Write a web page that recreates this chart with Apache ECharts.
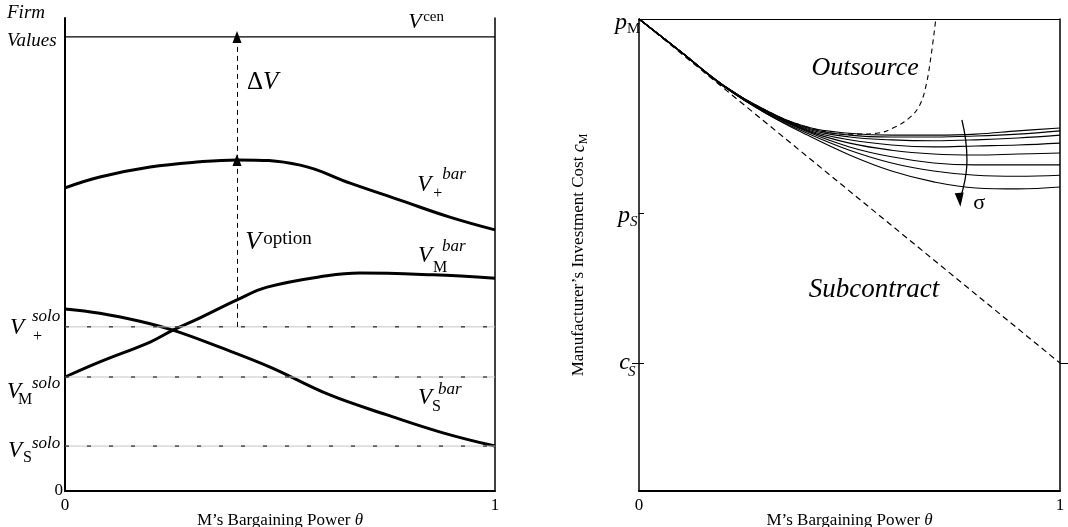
<!DOCTYPE html>
<html>
<head>
  <meta charset="UTF-8">
  <title>Firm values and the outsourcing boundary</title>
  <script src="https://cdn.jsdelivr.net/npm/echarts@6/dist/echarts.min.js"></script>
  <style>
    html, body { margin: 0; background: #fff; }
    #chart { width: 1068px; height: 527px; }
  </style>
</head>
<body>
  <div id="chart"></div>
  <script>
    // left panel: firm values against M's bargaining power
    const plusBarTheta = [0, 0.081, 0.198, 0.314, 0.4, 0.547, 0.663, 0.779, 0.895, 1];
    const plusBarValue = [64.1, 66.4, 68.5, 69.6, 70.0, 68.9, 65.1, 61.5, 57.9, 55.2];
    const mBarTheta = [0, 0.081, 0.198, 0.251, 0.314, 0.4, 0.47, 0.609, 0.686, 0.856, 1];
    const mBarValue = [24.1, 27.3, 31.5, 34.0, 36.6, 40.4, 43.1, 45.5, 46.1, 45.7, 45.0];
    const sBarTheta = [0, 0.081, 0.174, 0.251, 0.36, 0.477, 0.616, 0.749, 0.879, 1];
    const sBarValue = [38.5, 37.6, 35.9, 34.0, 30.4, 26.2, 20.3, 16.1, 12.3, 9.5];
    const plusSolo = 34.7, mSolo = 24.1, sSolo = 9.5, vCen = 96;
    const optionTheta = 0.4, plusBarPeak = 70.0;

    // right panel: investment cost threshold for several sigma
    const thetaGrid = [0, 0.1, 0.2, 0.3, 0.4, 0.5, 0.6, 0.7, 0.8, 0.9, 1];
    const sigmaCurves = [
      [1, 0.930, 0.860, 0.807, 0.771, 0.758, 0.754, 0.754, 0.756, 0.763, 0.769],
      [1, 0.930, 0.860, 0.807, 0.769, 0.754, 0.750, 0.750, 0.752, 0.756, 0.763],
      [1, 0.930, 0.860, 0.805, 0.767, 0.750, 0.744, 0.742, 0.744, 0.748, 0.754],
      [1, 0.930, 0.860, 0.805, 0.765, 0.744, 0.733, 0.729, 0.731, 0.733, 0.737],
      [1, 0.930, 0.858, 0.803, 0.763, 0.737, 0.722, 0.714, 0.712, 0.714, 0.716],
      [1, 0.930, 0.858, 0.803, 0.761, 0.729, 0.708, 0.695, 0.691, 0.691, 0.691],
      [1, 0.930, 0.858, 0.801, 0.758, 0.722, 0.695, 0.678, 0.669, 0.667, 0.669],
      [1, 0.930, 0.858, 0.801, 0.754, 0.712, 0.678, 0.655, 0.642, 0.640, 0.644]
    ];
    const boundaryTheta = [0, 0.1, 0.2, 0.3, 0.4, 0.5, 0.565, 0.608, 0.644, 0.667, 0.682, 0.694, 0.705];
    const boundaryValue = [1, 0.930, 0.860, 0.807, 0.771, 0.756, 0.758, 0.771, 0.792, 0.818, 0.860, 0.924, 1];
    const sigmaArrowTheta = [0.767, 0.779, 0.762];
    const sigmaArrowValue = [0.786, 0.701, 0.617];
    const pM = 1, pS = 0.589, cS = 0.271;

    const SERIF = '"Liberation Serif", "Times New Roman", serif';
    const chart = echarts.init(document.getElementById('chart'));

    function line(xi, yi, xs, ys, style, extra) {
      return Object.assign({
        type: 'line', xAxisIndex: xi, yAxisIndex: yi,
        data: xs.map((x, i) => [x, ys[i]]),
        symbol: 'none', silent: true, animation: false,
        lineStyle: Object.assign({ color: '#000', width: 1 }, style)
      }, extra || {});
    }

    function flat(xi, yi, v, style) {
      return line(xi, yi, [0, 1], [v, v], style);
    }

    const tickFont = { color: '#000', fontFamily: SERIF, fontSize: 17 };
    const xName = {
      name: 'M’s Bargaining Power {t|θ}', nameLocation: 'middle', nameGap: 21, nameMoveOverlap: false,
      nameTextStyle: Object.assign({ rich: { t: { fontStyle: 'italic', fontFamily: SERIF, fontSize: 17 } } }, tickFont)
    };

    const series = [
      line(0, 0, plusBarTheta, plusBarValue, { width: 3 }, { smooth: 0.4 }),
      line(0, 0, mBarTheta, mBarValue, { width: 3 }, { smooth: 0.4 }),
      line(0, 0, sBarTheta, sBarValue, { width: 3 }, { smooth: 0.4 }),
      flat(0, 0, vCen, { width: 1.2 })
    ];
    [plusSolo, mSolo, sSolo].forEach(v => {
      series.push(flat(0, 0, v, { color: '#c4c4c4', width: 1 }));
      series.push(flat(0, 0, v, { color: '#000', width: 1, type: [4, 18] }));
    });
    // dashed arrows for V option and Delta V
    series.push({
      type: 'line', xAxisIndex: 0, yAxisIndex: 0, data: [], silent: true, animation: false,
      markLine: {
        silent: true, animation: false, symbol: ['none', 'triangle'], symbolSize: [9, 12],
        label: { show: false },
        lineStyle: { color: '#000', width: 1, type: [5, 4] },
        emphasis: { disabled: true },
        data: [
          [{ coord: [optionTheta, plusSolo] }, { coord: [optionTheta, plusBarPeak] }],
          [{ coord: [optionTheta, plusBarPeak] }, { coord: [optionTheta, vCen] }]
        ]
      }
    });

    sigmaCurves.forEach(c => series.push(line(1, 2, thetaGrid, c, { width: 1.1 }, { smooth: 0.4 })));
    series.push(line(1, 2, [0, 1], [pM, cS], { width: 1.2, type: [6, 4] }));
    series.push(line(1, 2, boundaryTheta, boundaryValue, { width: 1.1, type: [5, 4] }, { smooth: 0.4 }));
    const arrow = line(1, 2, sigmaArrowTheta, sigmaArrowValue, { width: 1.3 }, { smooth: true });
    arrow.data[2] = { value: arrow.data[2], symbol: 'triangle', symbolSize: [9, 14], symbolRotate: 185, itemStyle: { color: '#000' } };
    arrow.showSymbol = true;
    series.push(arrow);

    const plainAxis = { type: 'value', min: 0, max: 1, splitLine: { show: false }, axisTick: { show: false }, axisLabel: { show: false } };

    chart.setOption({
      backgroundColor: '#fff',
      animation: false,
      grid: [
        { left: 65, right: 573, top: 18, bottom: 36, outerBoundsMode: 'none', containLabel: false },
        { left: 639, right: 8, top: 19, bottom: 36, outerBoundsMode: 'none', containLabel: false }
      ],
      xAxis: [
        Object.assign({
          gridIndex: 0, type: 'value', min: 0, max: 1, interval: 1,
          axisLine: { onZero: false, lineStyle: { color: '#000', width: 2 } },
          axisTick: { show: false }, splitLine: { show: false },
          axisLabel: Object.assign({ margin: 6 }, tickFont)
        }, xName),
        Object.assign({
          gridIndex: 1, type: 'value', min: 0, max: 1, interval: 1,
          axisLine: { onZero: false, lineStyle: { color: '#000', width: 2 } },
          axisTick: { show: false }, splitLine: { show: false },
          axisLabel: Object.assign({ margin: 6 }, tickFont)
        }, xName),
        Object.assign({}, plainAxis, {
          gridIndex: 1, position: 'top',
          axisLine: { onZero: false, lineStyle: { color: '#000', width: 1 } }
        })
      ],
      yAxis: [
        {
          gridIndex: 0, type: 'value', min: 0, max: 100,
          axisLine: { onZero: false, lineStyle: { color: '#000', width: 2 } },
          axisTick: { show: false }, splitLine: { show: false },
          axisLabel: Object.assign({ customValues: [0], margin: 2 }, tickFont)
        },
        Object.assign({}, plainAxis, {
          gridIndex: 0, position: 'right', max: 100,
          axisLine: { onZero: false, lineStyle: { color: '#000', width: 1.5 } }
        }),
        Object.assign({}, plainAxis, {
          gridIndex: 1,
          axisLine: { onZero: false, lineStyle: { color: '#000', width: 1.5 } },
          axisTick: { show: true, customValues: [pS, cS], inside: true, length: 5, lineStyle: { color: '#000' } },
          name: 'Manufacturer’s Investment Cost {c|c}{m|M}',
          nameLocation: 'middle', nameRotate: 90, nameGap: 49, nameMoveOverlap: false,
          nameTextStyle: {
            color: '#000', fontFamily: SERIF, fontSize: 17, lineHeight: 22,
            rich: {
              c: { fontStyle: 'italic', fontFamily: SERIF, fontSize: 18, lineHeight: 22 },
              m: { fontFamily: SERIF, fontSize: 12, lineHeight: 12, verticalAlign: 'bottom' }
            }
          }
        }),
        Object.assign({}, plainAxis, {
          gridIndex: 1, position: 'right',
          axisLine: { onZero: false, lineStyle: { color: '#000', width: 1.5 } },
          axisTick: { show: true, customValues: [cS], length: 8, lineStyle: { color: '#000' } }
        }),
        Object.assign({}, plainAxis, {
          gridIndex: 1, position: 'right',
          axisLine: { show: false },
          axisTick: { show: true, customValues: [cS], inside: true, length: 7, lineStyle: { color: '#000' } }
        })
      ],
      series: series
    });

    // math-style labels placed from data coordinates
    const L = { xAxisIndex: 0, yAxisIndex: 0 };
    const R = { xAxisIndex: 1, yAxisIndex: 2 };

    function piece(ax, at, dx, dy, text, size, italic, align, rich) {
      const p = chart.convertToPixel(ax, at);
      return {
        type: 'text', x: p[0] + dx, y: p[1] + dy, silent: true,
        style: {
          text: text, fontFamily: SERIF, fontSize: size,
          fontStyle: italic ? 'italic' : 'normal', fill: '#000',
          align: align || 'left', verticalAlign: 'middle', rich: rich
        }
      };
    }

    const graphics = [
      {
        type: 'text', left: 7, top: -1, silent: true,
        style: { text: 'Firm\nValues', fontFamily: SERIF, fontSize: 19, fontStyle: 'italic', lineHeight: 28, fill: '#000' }
      },
      // solo values on the left axis
      piece(L, [0, plusSolo], -55, 1, 'V', 23, true),
      piece(L, [0, plusSolo], -32, 10, '+', 16, false),
      piece(L, [0, plusSolo], -33, -10, 'solo', 17, true),
      piece(L, [0, mSolo], -58, 15, 'V', 23, true),
      piece(L, [0, mSolo], -47, 23, 'M', 16, false),
      piece(L, [0, mSolo], -33, 7, 'solo', 17, true),
      piece(L, [0, sSolo], -57, 5, 'V', 23, true),
      piece(L, [0, sSolo], -42, 12, 'S', 16, false),
      piece(L, [0, sSolo], -33, -3, 'solo', 17, true),
      // curve names
      piece(L, [0.819, 64.7], 0, 0, 'V', 23, true),
      piece(L, [0.819, 64.7], 16, 9, '+', 16, false),
      piece(L, [0.819, 64.7], 25, -10, 'bar', 17, true),
      piece(L, [0.821, 49.7], 0, 0, 'V', 23, true),
      piece(L, [0.821, 49.7], 15, 12, 'M', 16, false),
      piece(L, [0.821, 49.7], 24, -9, 'bar', 17, true),
      piece(L, [0.821, 19.7], 0, 0, 'V', 23, true),
      piece(L, [0.821, 19.7], 14, 9, 'S', 16, false),
      piece(L, [0.821, 19.7], 20, -8, 'bar', 17, true),
      piece(L, [0.798, 99.2], 0, 0, 'V', 22, true),
      piece(L, [0.798, 99.2], 15, -5, 'cen', 15, false),
      piece(L, [0.419, 52.6], 0, 0, 'V', 26, true),
      piece(L, [0.419, 52.6], 18, -3, 'option', 19, false),
      piece(L, [0.423, 86.3], 0, 0, '{d|Δ}{v|V}', 25, false, 'left', {
        d: { fontFamily: SERIF, fontSize: 25 },
        v: { fontFamily: SERIF, fontSize: 25, fontStyle: 'italic' }
      }),
      // right panel axis marks
      piece(R, [0, pM], -12, 4, 'p', 24, true, 'right'),
      piece(R, [0, pM], -12, 10, 'M', 15, false),
      piece(R, [0, pS], -9, 3, 'p', 24, true, 'right'),
      piece(R, [0, pS], -9, 9, 'S', 15, true),
      piece(R, [0, cS], -9, 0, 'c', 24, true, 'right'),
      piece(R, [0, cS], -11, 9, 'S', 15, true),
      // regions
      piece(R, [0.537, 0.896], 0, 0, 'Outsource', 26, true, 'center'),
      piece(R, [0.558, 0.426], 0, 0, 'Subcontract', 27, true, 'center'),
      piece(R, [0.808, 0.610], 0, 0, 'σ', 22, false, 'center')
    ];

    chart.setOption({ graphic: graphics });
  </script>
</body>
</html>
